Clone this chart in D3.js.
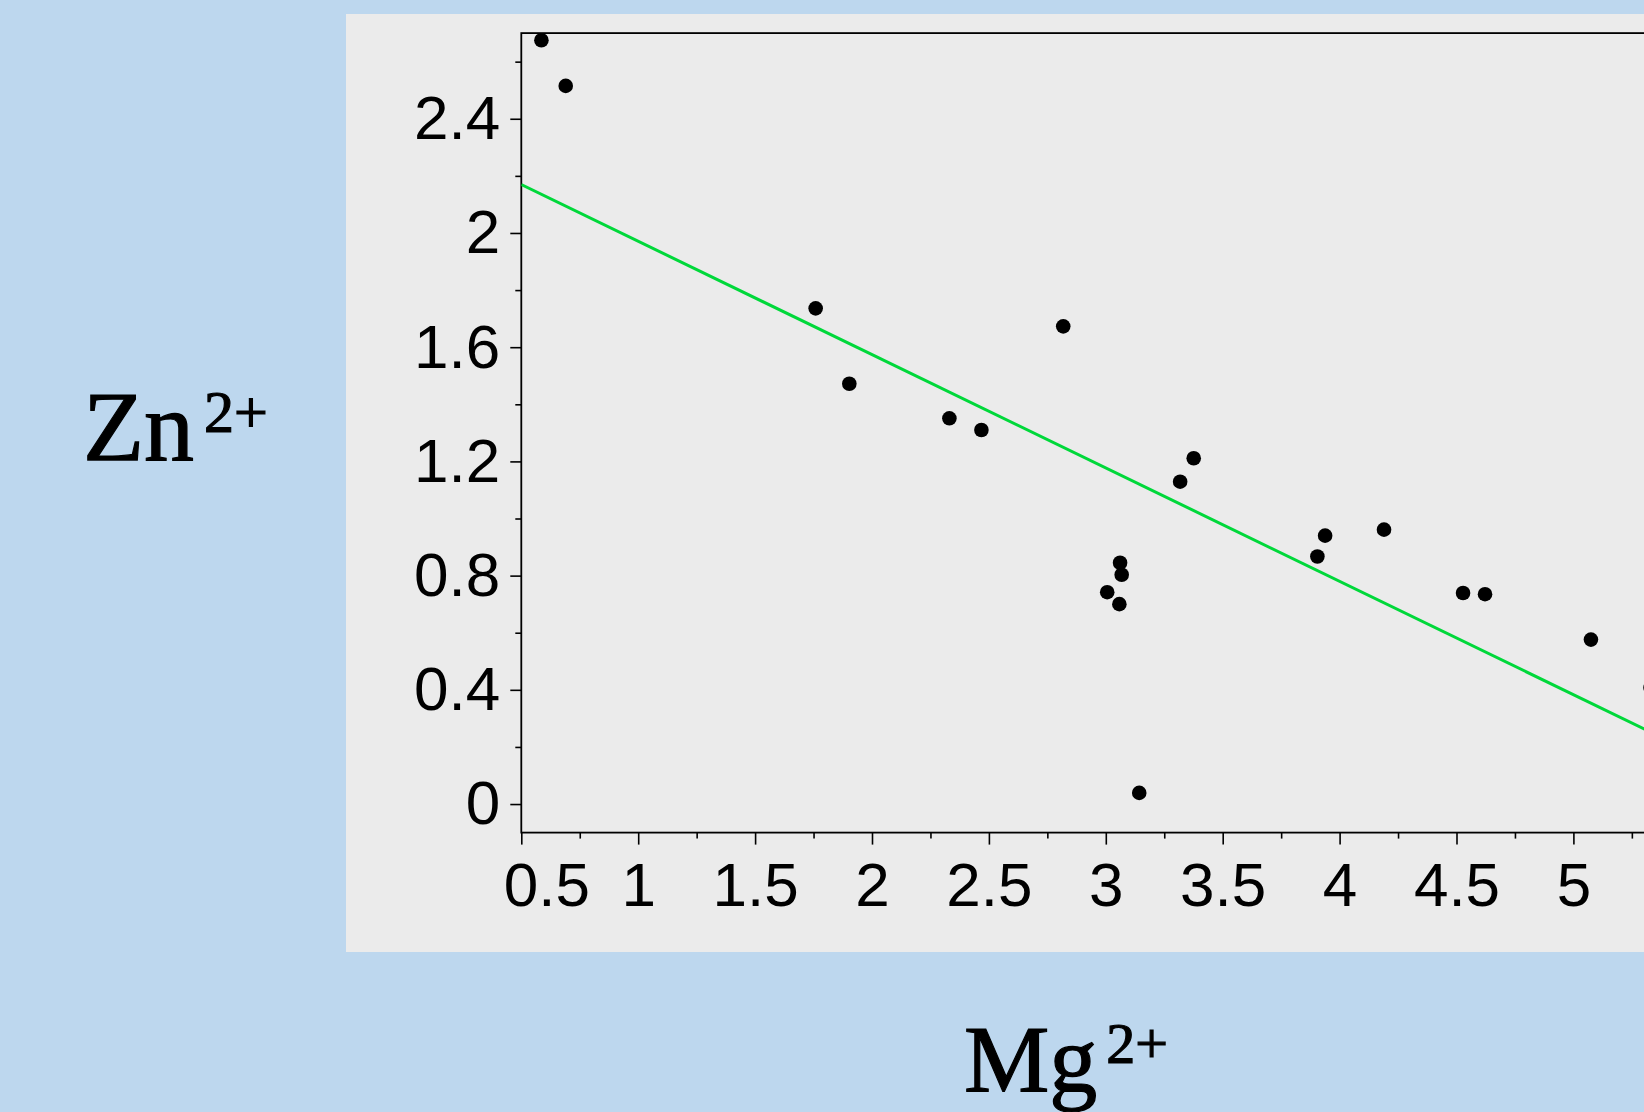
<!DOCTYPE html>
<html lang="en">
<head>
    <meta charset="UTF-8">
    <script src="https://d3js.org/d3.v7.min.js"></script>
    <title>Zn vs Mg</title>
    <style>
        html, body { margin: 0; padding: 0; background: #bdd7ee; overflow: hidden; }
        svg { display: block; }
    </style>
</head>
<body>

    <div id="chart"></div>

    <script>
        // data
        let mgValues = [0.586, 0.690, 1.759, 1.903, 2.331, 2.468, 2.818, 3.006, 3.058, 3.061, 3.068,
                        3.143, 3.318, 3.376, 3.905, 3.938, 4.190, 4.528, 4.622, 5.075, 5.330];
        let znValues = [2.675, 2.515, 1.736, 1.472, 1.351, 1.310, 1.673, 0.742, 0.700, 0.845, 0.803,
                        0.039, 1.129, 1.211, 0.867, 0.940, 0.961, 0.739, 0.735, 0.576, 0.408];
        let xMajorTicks = [0.5, 1, 1.5, 2, 2.5, 3, 3.5, 4, 4.5, 5];
        let xMinorTicks = [0.75, 1.25, 1.75, 2.25, 2.75, 3.25, 3.75, 4.25, 4.75, 5.25, 5.75];
        let yMajorTicks = [0, 0.4, 0.8, 1.2, 1.6, 2, 2.4];
        let yMinorTicks = [0.2, 0.6, 1.0, 1.4, 1.8, 2.2, 2.6];
        // least squares line (intercept, slope)
        let fitIntercept = 2.368;
        let fitSlope = -0.397;

        let width = 1644, height = 1112;

        let svg = d3.select("#chart")
            .append("svg")
            .attr("width", width)
            .attr("height", height);

        // grey panel
        svg.append("rect")
            .attr("x", 346)
            .attr("y", 14)
            .attr("width", 1500)
            .attr("height", 938)
            .attr("fill", "#ebebeb");

        let xDomain = [0.5, 5.8];
        let yDomain = [-0.1, 2.7];
        let x = d3.scaleLinear().domain(xDomain).range([521.3, 521.3 + 5.3 * 233.8]);
        let y = d3.scaleLinear().domain(yDomain).range([832.6, 33.1]);

        let tickFont = "'Liberation Sans', Arial, Helvetica, sans-serif";

        // frame
        svg.append("rect")
            .attr("x", x(xDomain[0]))
            .attr("y", y(yDomain[1]))
            .attr("width", x(xDomain[1]) - x(xDomain[0]))
            .attr("height", y(yDomain[0]) - y(yDomain[1]))
            .attr("fill", "none")
            .attr("stroke", "#000")
            .attr("stroke-width", 1.8);

        // x axis
        let xAxis = svg.append("g")
            .attr("transform", "translate(0," + y(yDomain[0]) + ")")
            .call(d3.axisBottom(x).tickValues(xMajorTicks).tickSize(12).tickPadding(17)
                .tickFormat(d3.format("")));
        xAxis.select(".domain").remove();
        xAxis.selectAll("line").attr("stroke", "#000").attr("stroke-width", 1.6);
        xAxis.selectAll("text")
            .style("font-family", tickFont)
            .style("font-size", "62px")
            .attr("fill", "#000")
            .attr("dx", function(d) { return d === 0.5 ? 25 : 0; });

        svg.append("g")
            .attr("transform", "translate(0," + y(yDomain[0]) + ")")
            .call(d3.axisBottom(x).tickValues(xMinorTicks).tickSize(6).tickFormat(""))
            .call(function(g) { g.select(".domain").remove(); })
            .selectAll("line").attr("stroke", "#000").attr("stroke-width", 1.6);

        // y axis
        let yAxis = svg.append("g")
            .attr("transform", "translate(" + x(xDomain[0]) + ",0)")
            .call(d3.axisLeft(y).tickValues(yMajorTicks).tickSize(11).tickPadding(10)
                .tickFormat(d3.format("")));
        yAxis.select(".domain").remove();
        yAxis.selectAll("line").attr("stroke", "#000").attr("stroke-width", 1.6);
        yAxis.selectAll("text")
            .style("font-family", tickFont)
            .style("font-size", "62px")
            .attr("fill", "#000");

        svg.append("g")
            .attr("transform", "translate(" + x(xDomain[0]) + ",0)")
            .call(d3.axisLeft(y).tickValues(yMinorTicks).tickSize(6).tickFormat(""))
            .call(function(g) { g.select(".domain").remove(); })
            .selectAll("line").attr("stroke", "#000").attr("stroke-width", 1.6);

        // clip for plot contents
        svg.append("clipPath").attr("id", "plot-clip")
            .append("rect")
            .attr("x", x(xDomain[0]))
            .attr("y", y(yDomain[1]))
            .attr("width", x(xDomain[1]) - x(xDomain[0]))
            .attr("height", y(yDomain[0]) - y(yDomain[1]));

        let plot = svg.append("g").attr("clip-path", "url(#plot-clip)");

        // regression line
        let fitLine = d3.line()
            .x(function(d) { return x(d); })
            .y(function(d) { return y(fitIntercept + fitSlope * d); });
        plot.append("path")
            .datum(xDomain)
            .attr("d", fitLine)
            .attr("fill", "none")
            .attr("stroke", "#00d83a")
            .attr("stroke-width", 3);

        // points
        plot.selectAll("circle")
            .data(mgValues)
            .enter()
            .append("circle")
            .attr("cx", function(d) { return x(d); })
            .attr("cy", function(d, i) { return y(znValues[i]); })
            .attr("r", 7.3)
            .attr("fill", "#000");

        // axis titles
        let titleFont = "'Liberation Serif', 'Times New Roman', serif";

        let yTitle = svg.append("text")
            .attr("x", 83)
            .attr("y", 460)
            .style("font-family", titleFont)
            .style("font-size", "100px")
            .attr("fill", "#000")
            .attr("stroke", "#000")
            .attr("stroke-width", 1.2);
        yTitle.append("tspan").text("Zn");
        yTitle.append("tspan").attr("dx", 10).attr("dy", -28).style("font-size", "60px").text("2+");

        let xTitle = svg.append("text")
            .attr("x", 964)
            .attr("y", 1092)
            .style("font-family", titleFont)
            .style("font-size", "96px")
            .attr("fill", "#000")
            .attr("stroke", "#000")
            .attr("stroke-width", 1.2);
        xTitle.append("tspan").text("Mg");
        xTitle.append("tspan").attr("dx", 9).attr("dy", -29).style("font-size", "58px").text("2+");

    </script>

</body>
</html>
